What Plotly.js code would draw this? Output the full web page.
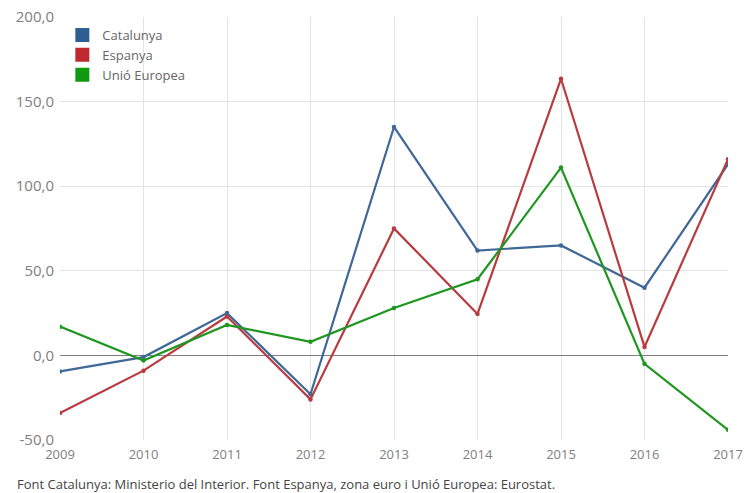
<!DOCTYPE html>
<html>
<head>
<meta charset="utf-8">
<script src="https://cdn.plot.ly/plotly-3.0.1.min.js"></script>
<style>html,body{margin:0;padding:0;background:#fff;}#chart{width:755px;height:493px;}</style>
</head>
<body>
<div id="chart"></div>
<script>
const years = [2009, 2010, 2011, 2012, 2013, 2014, 2015, 2016, 2017];
const catalunya = [-9.5, -1, 25, -23, 135, 62, 65, 40, 113];
const espanya = [-34, -9, 23, -26, 75, 24.5, 163.5, 5, 116];
const uniEuropea = [17, -3, 18, 8, 28, 45, 111, -5, -44];
const seriesNames = ['Catalunya', 'Espanya', 'Unió Europea'];
const seriesColors = ['#3f6897', '#b83b3f', '#1f961f'];
const swatchColors = ['#2f5e92', '#c02a2f', '#119a11'];
const yTicks = [-50, 0, 50, 100, 150, 200];
const yTickLabels = ['-50,0', '0,0', '50,0', '100,0', '150,0', '200,0'];
const footer = 'Font Catalunya: Ministerio del Interior. Font Espanya, zona euro i Unió Europea: Eurostat.';

const seriesData = [catalunya, espanya, uniEuropea];
const traces = [];
seriesData.forEach((vals, i) => {
  traces.push({
    x: years, y: vals, type: 'scatter', mode: 'lines+markers',
    line: {color: seriesColors[i], width: 2.2},
    marker: {color: seriesColors[i], size: 4.5},
    showlegend: false, name: seriesNames[i]
  });
});
seriesData.forEach((vals, i) => {
  traces.push({
    x: [null], y: [null], type: 'scatter', mode: 'markers',
    marker: {color: swatchColors[i], symbol: 'square', size: 14},
    name: seriesNames[i], showlegend: true
  });
});

const layout = {
  width: 755, height: 493,
  margin: {l: 60, r: 27, t: 17, b: 53},
  paper_bgcolor: '#fff', plot_bgcolor: '#fff',
  font: {family: 'Open Sans, sans-serif', color: '#808080', size: 13},
  showlegend: true,
  legend: {x: 0.0035, y: 0.993, xanchor: 'left', yanchor: 'top',
    bgcolor: 'rgba(255,255,255,0)', font: {size: 13, color: '#666'},
    itemwidth: 30, tracegroupgap: 0},
  xaxis: {
    range: [2009, 2017], tickvals: years, ticktext: years.map(String),
    showgrid: true, gridcolor: '#e4e4e4', gridwidth: 1,
    zeroline: false, showline: false, ticks: '', ticklabelstandoff: 5,
    tickfont: {size: 13, color: '#808080'}, fixedrange: true
  },
  yaxis: {
    range: [-50, 200], tickvals: yTicks, ticktext: yTickLabels,
    showgrid: true, gridcolor: '#e4e4e4', gridwidth: 1,
    zeroline: true, zerolinecolor: '#808080', zerolinewidth: 1,
    showline: false, ticks: '', ticklabelstandoff: 5,
    tickfont: {size: 15, color: '#808080'}, fixedrange: true
  },
  annotations: [{
    text: footer, xref: 'paper', yref: 'paper', x: -0.0674, y: -0.104,
    xanchor: 'left', yanchor: 'middle', showarrow: false,
    font: {size: 13, color: '#444'}
  }]
};

Plotly.newPlot('chart', traces, layout, {displayModeBar: false, staticPlot: true});
</script>
</body>
</html>
